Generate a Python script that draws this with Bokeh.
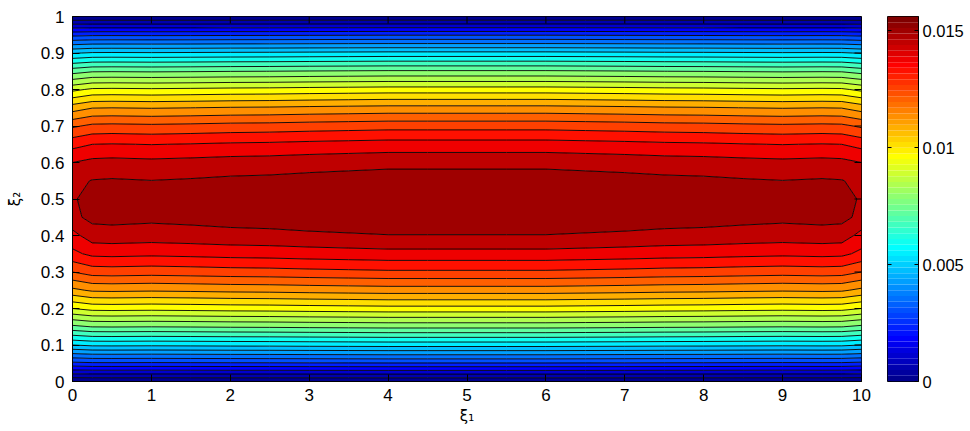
import numpy as np
from bokeh.plotting import figure
from bokeh.layouts import row
from bokeh.models import FixedTicker, Range1d
from bokeh.embed import file_html
from bokeh.resources import INLINE

# ---- data ----
xi1 = [0.0, 0.25, 0.5, 1.0, 1.5, 2.0, 2.5, 3.0, 3.5, 4.0, 4.5, 5.0,
       5.5, 6.0, 6.5, 7.0, 7.5, 8.0, 8.5, 9.0, 9.5, 9.75, 10.0]
xi2 = [0.0, 0.05, 0.1, 0.15, 0.2, 0.25, 0.3, 0.35, 0.4, 0.45, 0.5,
       0.55, 0.6, 0.65, 0.7, 0.75, 0.8, 0.85, 0.9, 0.95, 1.0]
# velocity profile across the channel at mid-length (x 1e-3)
u_center = [0.0, 2.96, 5.62, 7.96, 9.98, 11.70, 13.10, 14.20, 14.98, 15.44, 15.60,
            15.30, 14.83, 14.05, 12.97, 11.58, 9.88, 7.88, 5.56, 2.93, 0.0]
# velocity profile at the two ends of the channel (x 1e-3)
u_end = [0.0, 2.85, 5.40, 7.65, 9.60, 11.25, 12.60, 13.65, 14.20, 14.85, 14.90,
         14.85, 14.40, 13.60, 12.50, 11.10, 9.45, 7.55, 5.35, 2.82, 0.0]
# relative amplitude of the mid-length profile along the channel
f_xi1 = [0.955, 0.982, 0.984, 0.981, 0.984, 0.988, 0.990, 0.994, 0.997, 1.000, 1.000, 1.000,
         1.000, 1.000, 0.997, 0.994, 0.990, 0.988, 0.984, 0.981, 0.984, 0.982, 0.955]
levels = [-1e-6, 0.0006, 0.0012, 0.0018, 0.0024, 0.0030, 0.0036, 0.0042, 0.0048,
          0.0054, 0.0060, 0.0066, 0.0072, 0.0078, 0.0084, 0.0090, 0.0096, 0.0102,
          0.0108, 0.0114, 0.0120, 0.0126, 0.0132, 0.0138, 0.0144, 0.0150, 0.0160]
c_max = 0.0156
x_ticks = [0, 1, 2, 3, 4, 5, 6, 7, 8, 9, 10]
y_ticks = [0.0, 0.1, 0.2, 0.3, 0.4, 0.5, 0.6, 0.7, 0.8, 0.9, 1.0]
y_labels = ["0", "0.1", "0.2", "0.3", "0.4", "0.5", "0.6", "0.7", "0.8", "0.9", "1"]
cb_ticks = [0.0, 0.005, 0.01, 0.015]
cb_labels = ["0", "0.005", "0.01", "0.015"]

Z = np.outer(np.array(u_center) * 1e-3, np.array(f_xi1))
Z[:, 0] = np.array(u_end) * 1e-3
Z[:, -1] = np.array(u_end) * 1e-3


def jet(n=64):
    out = []
    q = n / 4.0
    for i in range(1, n + 1):
        r = min(max(min((i - 1.5 * q) / q, (4.5 * q - i) / q), 0), 1)
        g = min(max(min((i - 0.5 * q) / q, (3.5 * q - i) / q), 0), 1)
        b = min(max(min((i + 0.5 * q) / q, (2.5 * q - i) / q), 0), 1)
        out.append("#%02x%02x%02x" % (round(r * 255), round(g * 255), round(b * 255)))
    return out


jet64 = jet(64)
band_colors = []
for L in levels[:-1]:
    idx = int(np.floor(max(L, 0) / c_max * 64))
    band_colors.append(jet64[min(idx, 63)])

FONT = "Liberation Sans"
FS = "17px"
H = 431
FRAME_W, FRAME_H = 789, 365
LEFT, TOP, GAP = 72, 16, 26
BOTTOM = H - TOP - FRAME_H
CB_W, CB_RIGHT = 31, 50

p = figure(width=LEFT + FRAME_W + GAP, height=H,
           x_range=Range1d(0, 10), y_range=Range1d(0, 1),
           output_backend="svg", toolbar_location=None,
           min_border_left=LEFT, min_border_top=TOP, min_border_right=GAP,
           min_border_bottom=BOTTOM,
           background_fill_color="white", border_fill_color="white")
p.grid.visible = False
p.outline_line_color = "black"

p.contour(x=xi1, y=xi2, z=Z, levels=levels, fill_color=band_colors,
          line_color="black", line_width=0.9)

for ax in (p.xaxis[0], p.yaxis[0]):
    ax.major_tick_in = 7
    ax.major_tick_out = 0
    ax.minor_tick_line_color = None
    ax.major_label_text_font = FONT
    ax.major_label_text_font_size = FS
    ax.major_label_text_color = "black"
    ax.axis_line_color = "black"
    ax.axis_label_text_font = "DejaVu Sans"
    ax.axis_label_text_font_style = "normal"
    ax.axis_label_text_font_size = "15px"
    ax.axis_label_text_color = "black"

p.xaxis[0].ticker = FixedTicker(ticks=x_ticks)
p.yaxis[0].ticker = FixedTicker(ticks=y_ticks)
p.yaxis[0].major_label_overrides = dict(zip(y_ticks, y_labels))
p.xaxis[0].major_label_standoff = 7
p.yaxis[0].major_label_standoff = 8
p.xaxis[0].axis_label = "ξ₁"
p.yaxis[0].axis_label = "ξ₂"
p.xaxis[0].axis_label_standoff = 3
p.yaxis[0].axis_label_standoff = 14

# inward ticks on the top and right edges of the box
tick_dy = 7 / FRAME_H * 1.0
tick_dx = 7 / FRAME_W * 10.0
p.segment(x0=x_ticks, y0=[1.0] * len(x_ticks), x1=x_ticks, y1=[1.0 - tick_dy] * len(x_ticks),
          line_color="black", line_width=1)
p.segment(x0=[10.0] * len(y_ticks), y0=y_ticks, x1=[10.0 - tick_dx] * len(y_ticks), y1=y_ticks,
          line_color="black", line_width=1)

# ---- colour bar as its own small figure ----
edges = np.linspace(0, c_max, len(jet64) + 1)
cb = figure(width=CB_W + CB_RIGHT, height=H, x_range=Range1d(0, 1), y_range=Range1d(0, c_max),
            output_backend="svg", toolbar_location=None,
            x_axis_location=None, y_axis_location="right",
            min_border_left=0, min_border_right=CB_RIGHT, min_border_top=TOP,
            min_border_bottom=BOTTOM, border_fill_color="white")
cb.grid.visible = False
cb.outline_line_color = "black"
cb.quad(left=0, right=1, bottom=edges[:-1], top=edges[1:], fill_color=jet64,
        line_color=None)
cb.segment(x0=[0.0] * len(cb_ticks), y0=cb_ticks, x1=[0.13] * len(cb_ticks), y1=cb_ticks,
           line_color="black", line_width=1)
ya = cb.yaxis[0]
ya.ticker = FixedTicker(ticks=cb_ticks)
ya.major_label_overrides = dict(zip(cb_ticks, cb_labels))
ya.major_tick_in = 4
ya.major_tick_out = 0
ya.minor_tick_line_color = None
ya.axis_line_color = "black"
ya.major_label_standoff = 4
ya.major_label_text_font = FONT
ya.major_label_text_font_size = "16.5px"
ya.major_label_text_color = "black"

layout = row(p, cb)
open("out.html", "w").write(file_html(layout, INLINE))
